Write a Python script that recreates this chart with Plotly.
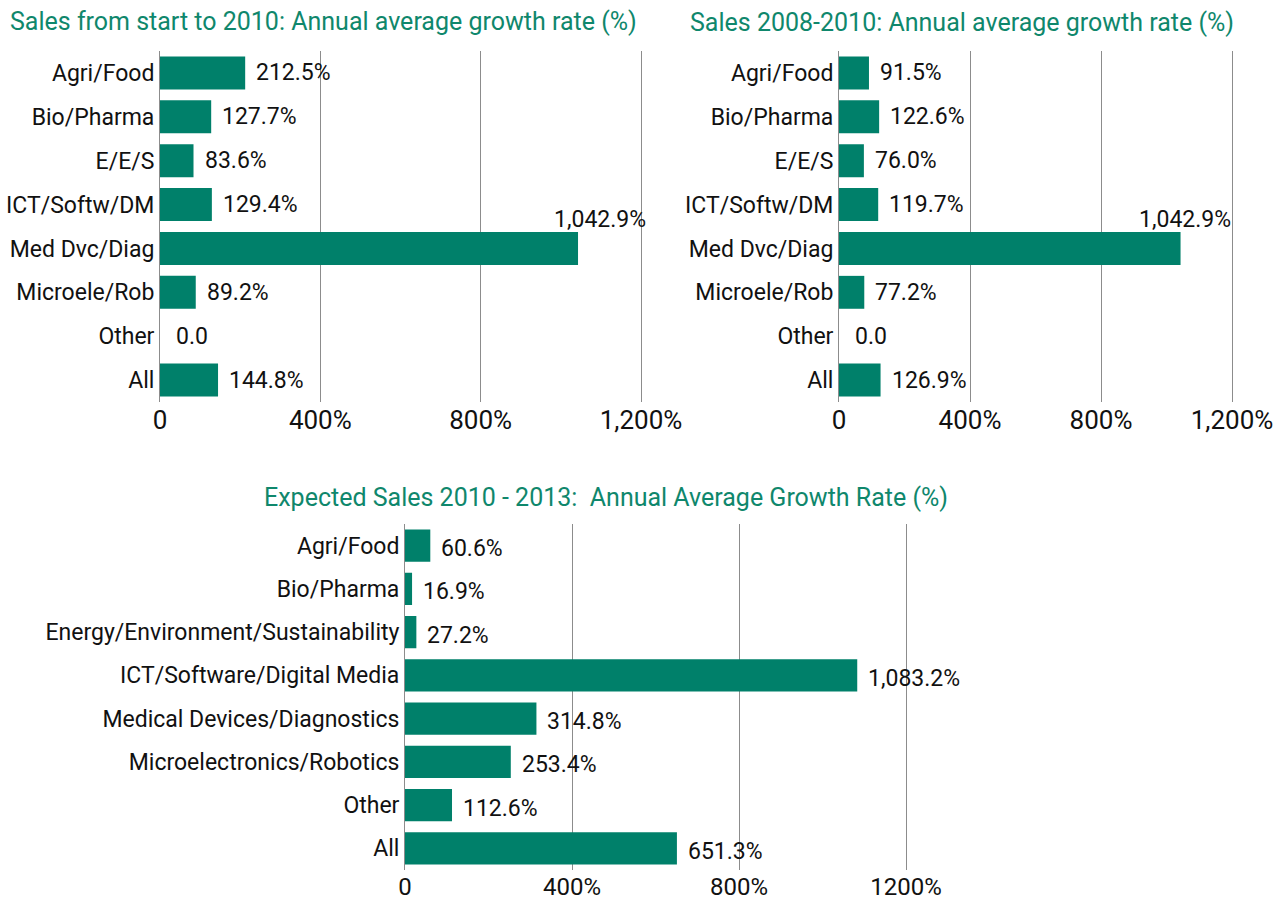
import plotly.graph_objects as go

# ---- data ----
cats_short = ["Agri/Food", "Bio/Pharma", "E/E/S", "ICT/Softw/DM", "Med Dvc/Diag",
              "Microele/Rob", "Other", "All"]
vals_start_2010 = [212.5, 127.7, 83.6, 129.4, 1042.9, 89.2, 0.0, 144.8]
vals_2008_2010 = [91.5, 122.6, 76.0, 119.7, 1042.9, 77.2, 0.0, 126.9]

cats_long = ["Agri/Food", "Bio/Pharma", "Energy/Environment/Sustainability",
             "ICT/Software/Digital Media", "Medical Devices/Diagnostics",
             "Microelectronics/Robotics", "Other", "All"]
vals_expected = [60.6, 16.9, 27.2, 1083.2, 314.8, 253.4, 112.6, 651.3]

tick_vals = [0, 400, 800, 1200]
tick_text_top = ["0", "400%", "800%", "1,200%"]
tick_text_bottom = ["0", "400%", "800%", "1200%"]

titles = ["Sales from start to 2010: Annual average growth rate (%)",
          "Sales 2008-2010: Annual average growth rate (%)",
          "Expected Sales 2010 - 2013:  Annual Average Growth Rate (%)"]

# ---- style ----
BAR = "#00806a"
TITLE = "#0f876c"
GRID = "#8c8c8c"
FONT = "Roboto, 'Open Sans', sans-serif"
W, H = 1285, 903
XMAX = 1204


def fmt(v):
    return "0.0" if v == 0 else f"{v:,.1f}%"


def px_x(a, b):
    # b is the pixel of 1200; widen so range end XMAX sits slightly beyond
    b2 = a + (b - a) * XMAX / 1200
    return [a / W, b2 / W]


def px_y(top, bottom):
    return [(H - bottom) / H, (H - top) / H]


fig = go.Figure()

panels = [
    (cats_short, vals_start_2010, "x", "y", px_x(160, 641), px_y(51, 402), tick_text_top, 26),
    (cats_short, vals_2008_2010, "x2", "y2", px_x(839, 1232), px_y(51, 402), tick_text_top, 26),
    (cats_long, vals_expected, "x3", "y3", px_x(405, 906), px_y(524, 870), tick_text_bottom, 24),
]

annotations = []
for i, (cats, vals, xa, ya, xd, yd, ttext, tsize) in enumerate(panels):
    fig.add_trace(go.Bar(
        x=vals, y=cats, orientation="h", xaxis=xa, yaxis=ya,
        marker=dict(color=BAR, line=dict(width=0)), showlegend=False,
        hoverinfo="x+y",
    ))
    suffix = "" if i == 0 else str(i + 1)
    fig.layout["xaxis" + suffix] = dict(
        domain=xd, anchor=ya, range=[0, XMAX], tickvals=tick_vals, ticktext=ttext,
        showgrid=True, gridcolor=GRID, gridwidth=1, zeroline=False, showline=False,
        ticks="", tickfont=dict(family=FONT, size=tsize, color="#111"), fixedrange=True,
        automargin=False,
    )
    fig.layout["yaxis" + suffix] = dict(
        domain=yd, anchor=xa, autorange="reversed", showgrid=False, zeroline=False,
        showline=True, linecolor=GRID, linewidth=1, ticks="",
        tickfont=dict(family=FONT, size=23, color="#111"), fixedrange=True,
        automargin=False,
    )
    for c, v in zip(cats, vals):
        if i < 2 and v > 1000:
            annotations.append(dict(
                x=v, y=c, xref=xa, yref=ya, text=fmt(v), showarrow=False,
                xanchor="center", yanchor="middle", xshift=22 if i == 0 else 4, yshift=29,
                font=dict(family=FONT, size=23, color="#111"),
            ))
        else:
            annotations.append(dict(
                x=v, y=c, xref=xa, yref=ya, text=fmt(v), showarrow=False,
                xanchor="left", yanchor="middle", xshift=14 if v == 0 else 9,
                yshift=-3 if i == 2 else 0,
                font=dict(family=FONT, size=23, color="#111"),
            ))

annotations += [
    dict(text=titles[0], x=8 / W, y=(H - 21) / H, xref="paper", yref="paper",
         xanchor="left", yanchor="middle", showarrow=False,
         font=dict(family=FONT, size=25, color=TITLE)),
    dict(text=titles[1], x=688 / W, y=(H - 22) / H, xref="paper", yref="paper",
         xanchor="left", yanchor="middle", showarrow=False,
         font=dict(family=FONT, size=25, color=TITLE)),
    dict(text=titles[2], x=262 / W, y=(H - 497) / H, xref="paper", yref="paper",
         xanchor="left", yanchor="middle", showarrow=False,
         font=dict(family=FONT, size=25, color=TITLE)),
]

fig.update_layout(
    width=W, height=H, margin=dict(l=0, r=0, t=0, b=0, pad=0),
    paper_bgcolor="white", plot_bgcolor="white",
    bargap=0.25, annotations=annotations,
    font=dict(family=FONT, size=23, color="#111"),
)

fig.write_html("out.html", config={"displayModeBar": False},
               post_script="document.body.style.margin='0';document.body.style.overflow='hidden';")
